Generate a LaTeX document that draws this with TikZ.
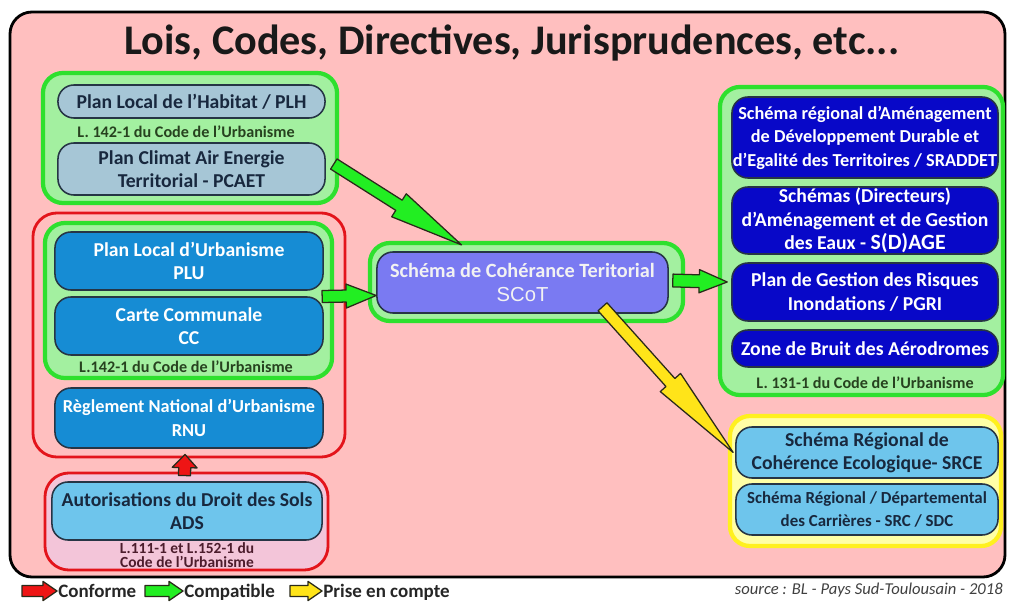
\documentclass[tikz,border=0pt]{standalone}
\usepackage{fontspec}
\setmainfont{Carlito}
\newfontfamily\arialfont{Liberation Sans}
\usetikzlibrary{calc}
\definecolor{panelpink}{HTML}{FFBFBF}
\definecolor{grpgreen}{HTML}{A3F0A0}
\definecolor{grpborder}{HTML}{2EE02E}
\definecolor{redline}{HTML}{E3141B}
\definecolor{adspink}{HTML}{F3C5D9}
\definecolor{yelfill}{HTML}{FFFFA6}
\definecolor{yelborder}{HTML}{FFF01E}
\definecolor{pillgray}{HTML}{A6C6D6}
\definecolor{pillblue}{HTML}{168CD4}
\definecolor{pilldeep}{HTML}{0808C8}
\definecolor{pillsky}{HTML}{6EC5EC}
\definecolor{pillscot}{HTML}{7A7AF2}
\definecolor{pilledge}{HTML}{263545}
\definecolor{navytext}{HTML}{18283E}
\definecolor{lawgreen}{HTML}{27421F}
\definecolor{lawmaroon}{HTML}{4C1C2C}
\definecolor{arrgreen}{HTML}{22EE22}
\definecolor{arryellow}{HTML}{FFE419}
\definecolor{arrred}{HTML}{EE1515}
\definecolor{arredge}{HTML}{2A2A1A}

% block arrow: #1 style, #2 from, #3 to, #4 shaft half width, #5 head half width, #6 head length
\newcommand{\blockarr}[6]{%
  \path (#2) coordinate (ba-s) (#3) coordinate (ba-e);
  \path ($(ba-e)!#6!(ba-s)$) coordinate (ba-h);
  \draw[#1] ($(ba-s)!#4!90:(ba-e)$) -- ($(ba-h)!#4!90:(ba-e)$) -- ($(ba-h)!#5!90:(ba-e)$)
    -- (ba-e) -- ($(ba-h)!#5!-90:(ba-e)$) -- ($(ba-h)!#4!-90:(ba-e)$) -- ($(ba-s)!#4!-90:(ba-e)$) -- cycle;
}

\begin{document}
\begin{tikzpicture}[x=0.025cm, y=-0.025cm,
    panel/.style={draw=black, line width=2pt, fill=panelpink, rounded corners=0.55cm},
    grp/.style={draw=grpborder, line width=3pt, fill=grpgreen, rounded corners=0.5cm, inner sep=0pt},
    redgrp/.style={draw=redline, line width=2pt, rounded corners=0.6cm, inner sep=0pt},
    pill/.style={draw=pilledge, line width=1.1pt, rounded corners=0.4cm, align=center,
        inner sep=0pt, font=\bfseries\fontsize{14}{16.5}\selectfont},
    graypill/.style={pill, fill=pillgray, text=navytext},
    bluepill/.style={pill, fill=pillblue, text=white},
    deeppill/.style={pill, fill=pilldeep, text=white},
    skypill/.style={pill, fill=pillsky, text=navytext},
    law/.style={font=\bfseries\fontsize{11.5}{13}\selectfont, text=lawgreen, align=center, inner sep=0pt},
    legend/.style={font=\bfseries\fontsize{13.5}{15}\selectfont, text=black!85, anchor=base west, inner sep=0pt},
    grnarr/.style={draw=arredge, line width=0.9pt, line join=round, fill=arrgreen},
    yelarr/.style={draw=arredge, line width=0.9pt, line join=round, fill=arryellow},
    redarr/.style={draw=arredge, line width=0.9pt, line join=round, fill=arrred}
]
\useasboundingbox[fill=white] (0,0) rectangle (1013,602);

% Frame and title
\draw[panel] (10,12) rectangle (1005,577);
\node[font=\bfseries\fontsize{30}{34}\selectfont, text=black!90] (title) at (512,43)
    {Lois, Codes, Directives, Jurisprudences, etc...};

% Left column: PLH / PCAET
\node[grp, minimum width=7.35cm, minimum height=3.25cm] (plhgrp) at (190,138) {};
\node[graypill, minimum width=6.675cm, minimum height=0.825cm] (plh) at (191.5,101.5)
    {Plan Local de l'Habitat / PLH};
\node[law] (plhlaw) at (186,132) {L. 142-1 du Code de l'Urbanisme};
\node[graypill, minimum width=6.675cm, minimum height=1.3cm] (pcaet) at (191.5,169)
    {Plan Climat Air Energie\\Territorial - PCAET};

% Left column: PLU / CC / RNU
\node[redgrp, minimum width=7.8cm, minimum height=6.1cm] (rnugrp) at (189,335) {};
\node[grp, minimum width=7.175cm, minimum height=3.875cm] (plugrp) at (188.5,300.5) {};
\node[bluepill, minimum width=6.7cm, minimum height=1.45cm] (plu) at (189,261)
    {Plan Local d'Urbanisme\\PLU};
\node[bluepill, minimum width=6.7cm, minimum height=1.45cm] (cc) at (189,326)
    {Carte Communale\\CC};
\node[law] (plulaw) at (186,367) {L.142-1 du Code de l'Urbanisme};
\node[bluepill, font=\bfseries\fontsize{13}{16.5}\selectfont, minimum width=6.7cm, minimum height=1.5cm] (rnu)
    at (189,418) {Règlement National d'Urbanisme\\RNU};

% Left column: ADS
\node[redgrp, fill=adspink, minimum width=7.075cm, minimum height=2.425cm] (adsgrp) at (186.5,521.5) {};
\node[skypill, minimum width=6.75cm, minimum height=1.45cm] (ads) at (187,511)
    {Autorisations du Droit des Sols\\ADS};
\node[law, text=lawmaroon, font=\bfseries\fontsize{11}{9.5}\selectfont] (adslaw) at (187,555)
    {L.111-1 et L.152-1 du\\Code de l'Urbanisme};

% Centre: SCoT
\node[grp, minimum width=7.825cm, minimum height=1.95cm] (scotgrp) at (526.5,282) {};
\node[pill, fill=pillscot, text=white!95!black, font=\bfseries\fontsize{14.4}{17}\selectfont,
    minimum width=7.275cm, minimum height=1.525cm] (scot)
    at (522.5,282.5) {Schéma de Cohérance Teritorial\\{\arialfont\mdseries\fontsize{14.4}{17}\selectfont SCoT}};

% Right column: SRADDET, S(D)AGE, PGRI, noise zones
\node[grp, minimum width=7.075cm, minimum height=7.7cm] (sdrgrp) at (861.5,241) {};
\node[deeppill, font=\bfseries\fontsize{13}{16.7}\selectfont, minimum width=6.65cm, minimum height=2.025cm]
    (sraddet) at (865,137.5)
    {Schéma régional d'Aménagement\\de Développement Durable et\\d'Egalité des Territoires / SRADDET};
\node[deeppill, minimum width=6.65cm, minimum height=1.675cm] (sdage) at (865,220.5)
    {Schémas (Directeurs)\\d'Aménagement et de Gestion\\des Eaux - {\fontsize{15.5}{16.5}\selectfont S(D)AGE}};
\node[deeppill, minimum width=6.65cm, minimum height=1.45cm] (pgri) at (865,292)
    {Plan de Gestion des Risques\\Inondations / PGRI};
\node[deeppill, minimum width=6.65cm, minimum height=0.925cm] (zone) at (865,348.5)
    {Zone de Bruit des Aérodromes};
\node[law] (sdrlaw) at (865,383) {L. 131-1 du Code de l'Urbanisme};

% Right column: SRCE, SRC
\node[grp, draw=yelborder, fill=yelfill, minimum width=6.775cm, minimum height=3.25cm] (srcegrp) at (865.5,481) {};
\node[skypill, minimum width=6.55cm, minimum height=1.275cm] (srce) at (867,452.5)
    {Schéma Régional de\\Cohérence Ecologique- SRCE};
\node[skypill, font=\bfseries\fontsize{12}{17}\selectfont, minimum width=6.55cm, minimum height=1.275cm] (src)
    at (867,509.5) {Schéma Régional / Départemental\\des Carrières - SRC / SDC};

% Arrows
\blockarr{grnarr}{$(pcaet.east)+(8,-5)$}{$(scotgrp.north)+(-65,4)$}{1.5mm}{3.4mm}{18.5mm}
\blockarr{grnarr}{$(plugrp.east)+(-12,-4)$}{$(scot.west)+(0,13)$}{1.5mm}{3mm}{7.5mm}
\blockarr{grnarr}{$(scot.east)+(4,-2)$}{$(pgri.west)+(-4,-10)$}{1.6mm}{2.9mm}{7mm}
\blockarr{yelarr}{$(scot.south)+(80,-7)$}{$(srce.west)+(-2,0)$}{1.5mm}{3.4mm}{23.5mm}
\blockarr{redarr}{$(adsgrp.north)+(-2,4)$}{$(rnugrp.south)+(-4,-4)$}{1.5mm}{3.1mm}{3.3mm}

% Legend
\node[legend] (lconf) at (58,597) {Conforme};
\node[legend] (lcomp) at (184,597) {Compatible};
\node[legend] (lprise) at (323,597) {Prise en compte};
\coordinate (lconf-s) at (22,591);
\coordinate (lcomp-s) at (145,591);
\coordinate (lprise-s) at (290,591);
\blockarr{redarr}{lconf-s}{$(lconf.base west)+(-1,-6)$}{1.4mm}{2.4mm}{3.5mm}
\blockarr{grnarr}{lcomp-s}{$(lcomp.base west)+(-1,-6)$}{1.4mm}{2.4mm}{3.5mm}
\blockarr{yelarr}{lprise-s}{$(lprise.base west)+(-1,-6)$}{1.4mm}{2.4mm}{3.5mm}
\node[font=\itshape\fontsize{11.8}{13}\selectfont, text=black!75, anchor=east, inner sep=0pt] (source)
    at (1003,590) {source : BL - Pays Sud-Toulousain - 2018};
\end{tikzpicture}
\end{document}
